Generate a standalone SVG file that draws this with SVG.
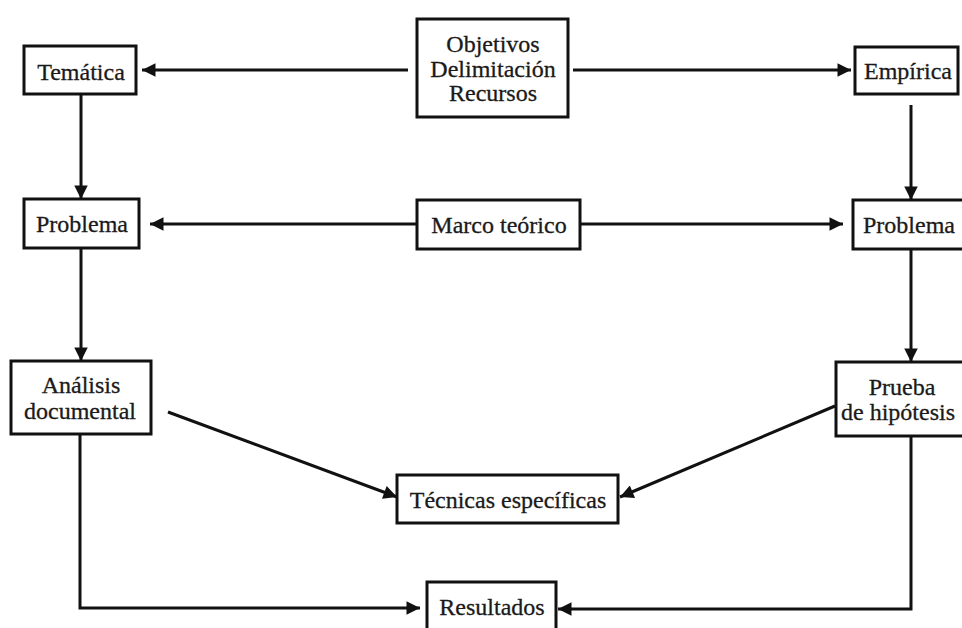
<svg xmlns="http://www.w3.org/2000/svg" width="962" height="628" viewBox="0 0 962 628">
  <defs>
    <marker id="arrow" viewBox="0 0 10 10" refX="10" refY="5" markerWidth="5.3" markerHeight="4.5" markerUnits="strokeWidth" orient="auto">
      <path d="M0,0 L10,5 L0,10 Z" fill="#111"/>
    </marker>
    <style>
      .box { fill: #fff; stroke: #111; stroke-width: 3; }
      .lbl { font-family: "Liberation Serif", "Times New Roman", serif; font-size: 24px; fill: #1a1a1a; stroke: #1a1a1a; stroke-width: 0.3; text-anchor: middle; }
      .edge { fill: none; stroke: #111; stroke-width: 3; }
      .arr { marker-end: url(#arrow); }
    </style>
  </defs>
  <rect width="962" height="628" fill="#fff"/>

  <!-- connectors -->
  <g id="connectors">
    <line class="edge arr" x1="408" y1="70" x2="142" y2="70"/>
    <line class="edge arr" x1="573" y1="70" x2="851" y2="70"/>
    <line class="edge arr" x1="81" y1="94" x2="81" y2="199"/>
    <line class="edge arr" x1="911" y1="105" x2="911" y2="200"/>
    <line class="edge arr" x1="417" y1="224" x2="150" y2="224"/>
    <line class="edge arr" x1="580" y1="224" x2="843" y2="224"/>
    <line class="edge arr" x1="81" y1="248" x2="81" y2="361"/>
    <line class="edge arr" x1="911" y1="249" x2="911" y2="362"/>
    <line class="edge arr" x1="168" y1="412" x2="397" y2="497"/>
    <line class="edge arr" x1="835" y1="406" x2="620" y2="497"/>
    <polyline class="edge arr" points="80,434 80,608 420,608"/>
    <polyline class="edge arr" points="911,436 911,609 558,609"/>
  </g>

  <!-- nodes -->
  <g id="tematica">
    <rect class="box" x="24" y="46" width="112" height="48"/>
    <text class="lbl" x="81" y="80">Temática</text>
  </g>
  <g id="objetivos">
    <rect class="box" x="417" y="19" width="151" height="98"/>
    <text class="lbl" x="493" y="52">Objetivos</text>
    <text class="lbl" x="493" y="77">Delimitación</text>
    <text class="lbl" x="493" y="101">Recursos</text>
  </g>
  <g id="empirica">
    <rect class="box" x="855" y="47" width="103" height="47"/>
    <text class="lbl" x="908" y="79">Empírica</text>
  </g>
  <g id="problema-izq">
    <rect class="box" x="24" y="199" width="115" height="49"/>
    <text class="lbl" x="82" y="232">Problema</text>
  </g>
  <g id="marco">
    <rect class="box" x="417" y="200" width="163" height="49"/>
    <text class="lbl" x="499" y="233">Marco teórico</text>
  </g>
  <g id="problema-der">
    <rect class="box" x="853" y="200" width="115" height="49"/>
    <text class="lbl" x="909" y="233">Problema</text>
  </g>
  <g id="analisis">
    <rect class="box" x="11" y="361" width="140" height="73"/>
    <text class="lbl" x="81" y="393">Análisis</text>
    <text class="lbl" x="80" y="419">documental</text>
  </g>
  <g id="prueba">
    <rect class="box" x="836" y="362" width="134" height="74"/>
    <text class="lbl" x="902" y="395">Prueba</text>
    <text class="lbl" x="898" y="420">de hipótesis</text>
  </g>
  <g id="tecnicas">
    <rect class="box" x="397" y="475" width="221" height="48"/>
    <text class="lbl" x="508" y="508">Técnicas específicas</text>
  </g>
  <g id="resultados">
    <rect class="box" x="427" y="582" width="129" height="60"/>
    <text class="lbl" x="492" y="615">Resultados</text>
  </g>
</svg>
